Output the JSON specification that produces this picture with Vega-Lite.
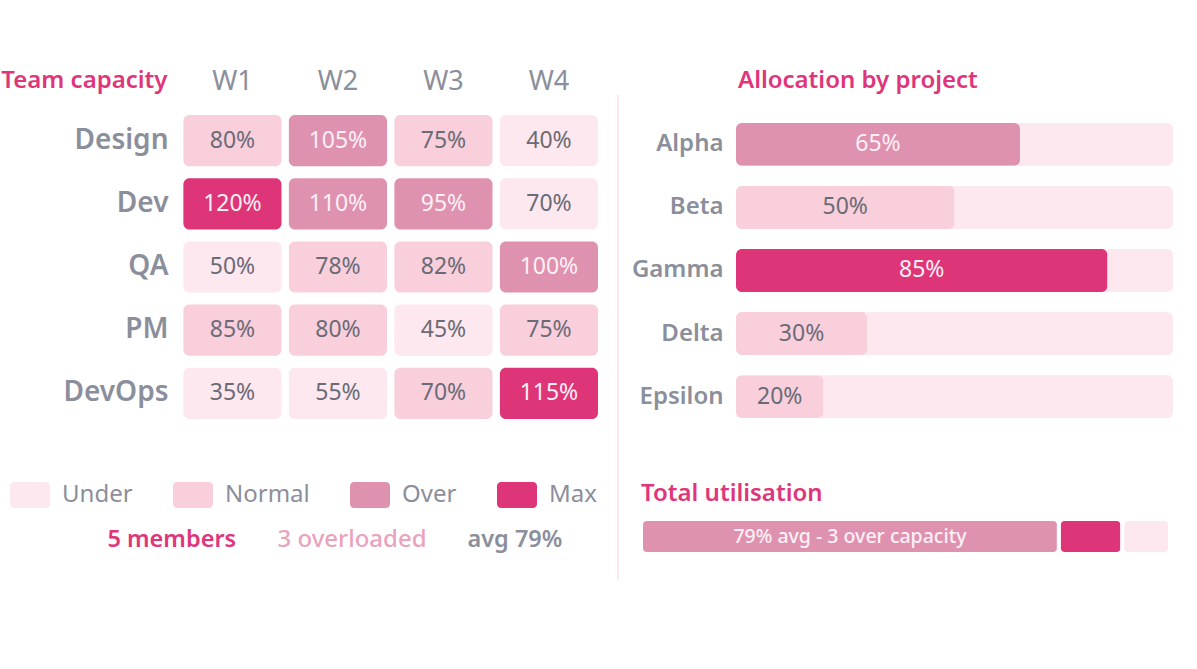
{
  "$schema": "https://vega.github.io/schema/vega-lite/v6.json",
  "background": "white",
  "padding": {"left": 0, "top": 67, "right": 0, "bottom": 0},
  "config": {
    "font": "Noto Sans",
    "view": {"stroke": null},
    "axis": {"domain": false, "ticks": false, "grid": false},
    "title": {"anchor": "start", "frame": "group", "fontSize": 24, "fontWeight": 600, "color": "#e0357a", "baseline": "bottom"}
  },
  "datasets": {
    "capacity": [
      {"team": "Design", "week": "W1", "load": 0.80, "level": "Normal"},
      {"team": "Design", "week": "W2", "load": 1.05, "level": "Over"},
      {"team": "Design", "week": "W3", "load": 0.75, "level": "Normal"},
      {"team": "Design", "week": "W4", "load": 0.40, "level": "Under"},
      {"team": "Dev", "week": "W1", "load": 1.20, "level": "Max"},
      {"team": "Dev", "week": "W2", "load": 1.10, "level": "Over"},
      {"team": "Dev", "week": "W3", "load": 0.95, "level": "Over"},
      {"team": "Dev", "week": "W4", "load": 0.70, "level": "Under"},
      {"team": "QA", "week": "W1", "load": 0.50, "level": "Under"},
      {"team": "QA", "week": "W2", "load": 0.78, "level": "Normal"},
      {"team": "QA", "week": "W3", "load": 0.82, "level": "Normal"},
      {"team": "QA", "week": "W4", "load": 1.00, "level": "Over"},
      {"team": "PM", "week": "W1", "load": 0.85, "level": "Normal"},
      {"team": "PM", "week": "W2", "load": 0.80, "level": "Normal"},
      {"team": "PM", "week": "W3", "load": 0.45, "level": "Under"},
      {"team": "PM", "week": "W4", "load": 0.75, "level": "Normal"},
      {"team": "DevOps", "week": "W1", "load": 0.35, "level": "Under"},
      {"team": "DevOps", "week": "W2", "load": 0.55, "level": "Under"},
      {"team": "DevOps", "week": "W3", "load": 0.70, "level": "Normal"},
      {"team": "DevOps", "week": "W4", "load": 1.15, "level": "Max"}
    ],
    "projects": [
      {"project": "Alpha", "share": 0.65, "level": "Over"},
      {"project": "Beta", "share": 0.50, "level": "Normal"},
      {"project": "Gamma", "share": 0.85, "level": "Max"},
      {"project": "Delta", "share": 0.30, "level": "Normal"},
      {"project": "Epsilon", "share": 0.20, "level": "Normal"}
    ],
    "utilisation": [
      {"metric": "Total", "part": "Average", "start": 0, "end": 0.79, "level": "Over", "note": "79% avg - 3 over capacity"},
      {"metric": "Total", "part": "Overloaded", "start": 0.79, "end": 0.91, "level": "Max", "note": null},
      {"metric": "Total", "part": "Spare", "start": 0.91, "end": 1.0, "level": "Under", "note": null}
    ],
    "summary": [
      {"label": "5 members"},
      {"label": "3 overloaded"},
      {"label": "avg 79%"}
    ]
  },
  "resolve": {"scale": {"color": "independent"}, "legend": {"color": "independent"}},
  "spacing": 19,
  "hconcat": [
    {
      "resolve": {"scale": {"color": "independent"}, "legend": {"color": "independent"}},
      "spacing": 17,
      "vconcat": [
        {
          "width": 491,
          "height": 324,
          "data": {"name": "capacity"},
          "encoding": {
            "x": {
              "field": "week", "type": "nominal",
              "scale": {"paddingInner": 0.07, "paddingOuter": 0.362, "align": 1},
              "axis": {"orient": "top", "title": null, "labelAngle": 0, "labelFontSize": 27, "labelColor": "#8b8e9b", "labelPadding": 0}
            },
            "y": {
              "field": "team", "type": "nominal",
              "sort": ["Design", "Dev", "QA", "PM", "DevOps"],
              "scale": {"paddingInner": 0.19, "paddingOuter": 0.158, "align": 1},
              "axis": {
                "offset": -76,
                "title": "Team capacity", "titleAngle": 0, "titleAlign": "right", "titleBaseline": "middle",
                "titleX": -16, "titleY": -15, "titleFontSize": 24, "titleFontWeight": 600, "titleColor": "#e0357a",
                "labelFontSize": 28, "labelFontWeight": 600, "labelColor": "#8b8e9b", "labelPadding": 15
              }
            }
          },
          "layer": [
            {
              "mark": {"type": "rect", "cornerRadius": 6},
              "encoding": {
                "color": {
                  "field": "level", "type": "nominal",
                  "scale": {"domain": ["Under", "Normal", "Over", "Max"], "range": ["#fde8ef", "#f9cfdc", "#df92b0", "#de3578"]},
                  "legend": {
                    "orient": "none", "legendX": -97, "legendY": 380, "direction": "horizontal",
                    "title": null, "padding": 0,
                    "symbolType": "M-0.8,-0.65H0.8A0.2,0.2,0,0,1,1,-0.45V0.45A0.2,0.2,0,0,1,0.8,0.65H-0.8A0.2,0.2,0,0,1,-1,0.45V-0.45A0.2,0.2,0,0,1,-0.8,-0.65Z",
                    "symbolSize": 1600, "symbolStrokeWidth": 0, "symbolOpacity": 1,
                    "labelFontSize": 24, "labelColor": "#8b8e9b", "labelOffset": 12, "columnPadding": 40, "labelLimit": 300
                  }
                }
              }
            },
            {
              "mark": {"type": "text", "fontSize": 23},
              "encoding": {
                "text": {"field": "load", "type": "quantitative", "format": ".0%"},
                "color": {
                  "condition": {"test": "datum.level === 'Over' || datum.level === 'Max'", "value": "#fdf0f5"},
                  "value": "#6b6b76"
                }
              }
            }
          ]
        },
        {
          "spacing": 40,
          "hconcat": [
            {
              "width": 1, "height": 30,
              "data": {"name": "summary"},
              "transform": [{"filter": "datum.label === '5 members'"}],
              "mark": {"type": "text", "align": "left", "baseline": "middle", "fontSize": 23.5, "fontWeight": 600, "color": "#e0357a"},
              "encoding": {"text": {"field": "label"}}
            },
            {
              "width": 1, "height": 30,
              "data": {"name": "summary"},
              "transform": [{"filter": "datum.label === '3 overloaded'"}],
              "mark": {"type": "text", "align": "left", "baseline": "middle", "fontSize": 24, "fontWeight": 500, "color": "#e9a3be"},
              "encoding": {"text": {"field": "label"}}
            },
            {
              "width": 1, "height": 30,
              "data": {"name": "summary"},
              "transform": [{"filter": "datum.label === 'avg 79%'"}],
              "mark": {"type": "text", "align": "left", "baseline": "middle", "fontSize": 23.5, "fontWeight": 600, "color": "#8b8e9b"},
              "encoding": {"text": {"field": "label"}}
            }
          ]
        }
      ]
    },
    {
      "spacing": 12,
      "resolve": {"scale": {"color": "independent"}, "legend": {"color": "independent"}},
      "hconcat": [
        {
          "width": 2, "height": 485,
          "data": {"values": [{}]},
          "mark": {"type": "rule", "color": "#fde6ee", "strokeWidth": 2},
          "encoding": {
            "y": {"datum": 0, "type": "quantitative", "scale": {"domain": [0, 1]}, "axis": null},
            "y2": {"datum": 1}
          }
        },
        {
          "spacing": 63,
          "vconcat": [
            {
              "width": 532,
              "height": 323,
              "title": {"text": "Allocation by project", "offset": 2.5, "dx": 97},
              "data": {"name": "projects"},
              "encoding": {
                "y": {
                  "field": "project", "type": "nominal", "sort": null,
                  "scale": {"paddingInner": 0.32, "paddingOuter": 0.222, "align": 1},
                  "axis": {"offset": -95, "title": null, "labelFontSize": 24, "labelFontWeight": 600, "labelColor": "#8b8e9b", "labelPadding": 13}
                }
              },
              "resolve": {"scale": {"x": "independent"}},
              "layer": [
                {
                  "mark": {"type": "bar", "cornerRadius": 6, "color": "#fde8ef"},
                  "encoding": {"x": {"datum": 1, "type": "quantitative", "scale": {"domain": [0, 1], "range": [95, 532]}, "axis": null}}
                },
                {
                  "mark": {"type": "bar", "cornerRadius": 6},
                  "encoding": {
                    "x": {"field": "share", "type": "quantitative", "scale": {"domain": [0, 1], "range": [95, 532]}, "axis": null},
                    "color": {
                      "field": "level", "type": "nominal",
                      "scale": {"domain": ["Under", "Normal", "Over", "Max"], "range": ["#fde8ef", "#f9cfdc", "#df92b0", "#de3578"]},
                      "legend": null
                    }
                  }
                },
                {
                  "mark": {"type": "text", "fontSize": 23},
                  "encoding": {
                    "x": {"field": "share", "type": "quantitative", "scale": {"domain": [0, 1], "range": [95, 313.5]}, "axis": null},
                    "text": {"field": "share", "type": "quantitative", "format": ".0%"},
                    "color": {
                      "condition": {"test": "datum.level === 'Over' || datum.level === 'Max'", "value": "#fdf0f5"},
                      "value": "#6b6b76"
                    }
                  }
                }
              ]
            },
            {
              "width": 529,
              "height": 35,
              "title": {"text": "Total utilisation", "offset": 11},
              "data": {"name": "utilisation"},
              "encoding": {
                "y": {"field": "metric", "type": "nominal", "scale": {"paddingInner": 0, "paddingOuter": 0}, "axis": null}
              },
              "resolve": {"scale": {"x": "independent"}},
              "layer": [
                {
                  "mark": {"type": "bar", "cornerRadius": 6, "stroke": "white", "strokeWidth": 4},
                  "encoding": {
                    "x": {"field": "start", "type": "quantitative", "scale": {"domain": [0, 1]}, "axis": null},
                    "x2": {"field": "end"},
                    "color": {
                      "field": "level", "type": "nominal",
                      "scale": {"domain": ["Under", "Normal", "Over", "Max"], "range": ["#fde8ef", "#f9cfdc", "#df92b0", "#de3578"]},
                      "legend": null
                    }
                  }
                },
                {
                  "transform": [{"filter": "datum.note != null"}],
                  "mark": {"type": "text", "fontSize": 19.5, "fontWeight": 500, "color": "#fdf0f5"},
                  "encoding": {
                    "x": {"field": "end", "type": "quantitative", "scale": {"domain": [0, 1], "range": [0, 264.5]}, "axis": null},
                    "text": {"field": "note"}
                  }
                }
              ]
            }
          ]
        }
      ]
    }
  ]
}
